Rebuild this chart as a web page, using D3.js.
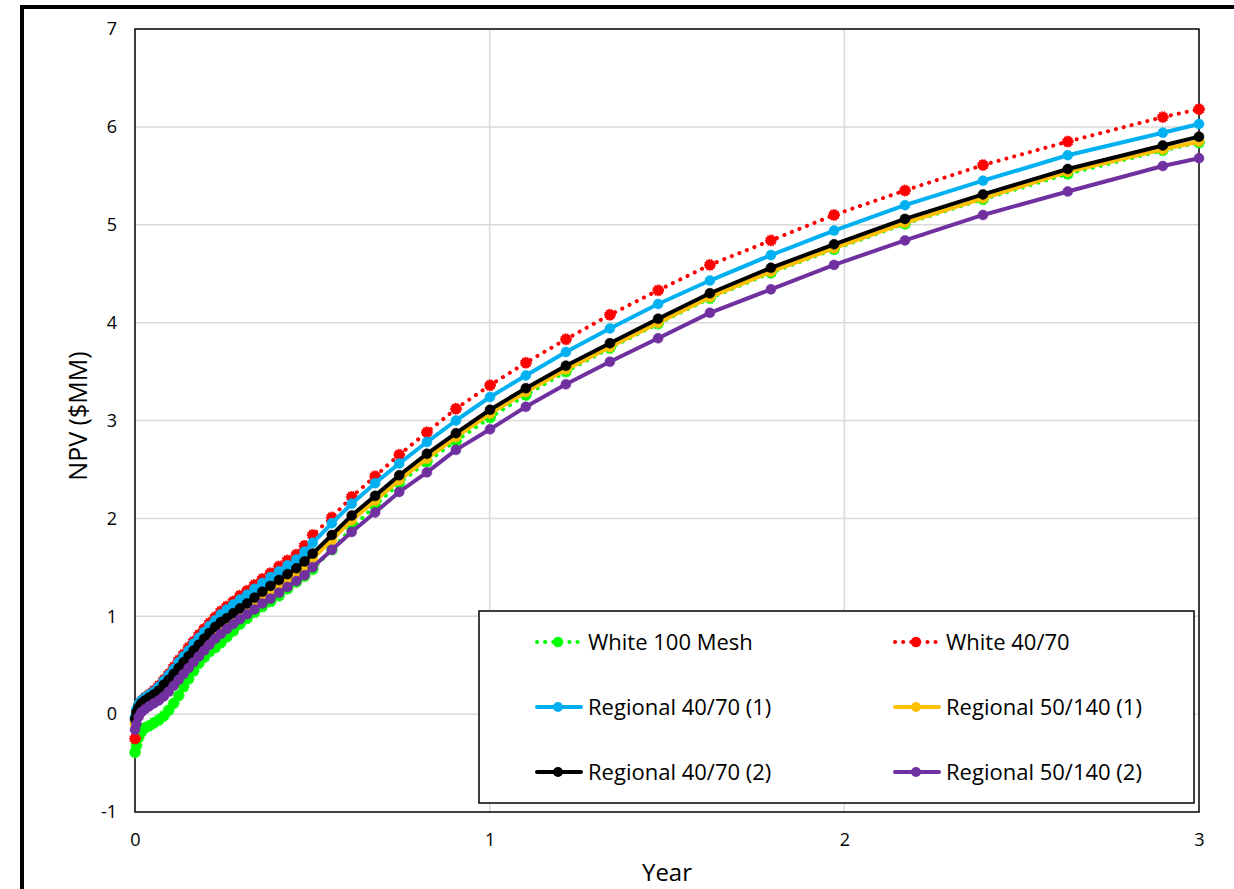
<!DOCTYPE html>
<html>
<head>
  <meta charset="UTF-8">
  <script src="https://d3js.org/d3.v7.min.js"></script>
  <title>NPV vs Year</title>
  <style>
    body { margin: 0; background: #fff; font-family: 'Open Sans', 'Liberation Sans', sans-serif; }
  </style>
</head>
<body>
  <svg width="1234" height="889"></svg>
  <script>
    // shared time steps (years)
    const years = [0, 0.004, 0.01, 0.018, 0.028, 0.04, 0.053, 0.067, 0.081, 0.095, 0.109, 0.123, 0.137, 0.151, 0.165, 0.18, 0.195, 0.21, 0.226, 0.242, 0.259, 0.277, 0.296, 0.316, 0.337, 0.359, 0.382, 0.406, 0.43, 0.455, 0.478, 0.501, 0.555, 0.611, 0.677, 0.745, 0.823, 0.905, 1.001, 1.102, 1.215, 1.339, 1.475, 1.621, 1.793, 1.971, 2.171, 2.391, 2.63, 2.898, 3.0];

    const white100 = [-0.39, -0.32, -0.24, -0.18, -0.14, -0.12, -0.09, -0.06, -0.02, 0.04, 0.11, 0.19, 0.28, 0.36, 0.44, 0.52, 0.58, 0.64, 0.68, 0.73, 0.79, 0.85, 0.92, 0.98, 1.04, 1.10, 1.15, 1.21, 1.28, 1.35, 1.41, 1.48, 1.68, 1.90, 2.13, 2.36, 2.58, 2.79, 3.03, 3.26, 3.50, 3.74, 3.99, 4.25, 4.51, 4.75, 5.01, 5.26, 5.52, 5.76, 5.84];
    const white4070 = [-0.25, -0.02, 0.08, 0.13, 0.17, 0.20, 0.24, 0.29, 0.35, 0.41, 0.48, 0.55, 0.61, 0.68, 0.74, 0.81, 0.87, 0.93, 0.99, 1.05, 1.10, 1.15, 1.21, 1.26, 1.32, 1.38, 1.44, 1.51, 1.57, 1.63, 1.72, 1.83, 2.01, 2.22, 2.43, 2.65, 2.88, 3.12, 3.36, 3.59, 3.83, 4.08, 4.33, 4.59, 4.84, 5.10, 5.35, 5.61, 5.85, 6.10, 6.18];
    const reg4070a = [-0.03, 0.05, 0.10, 0.14, 0.17, 0.20, 0.23, 0.28, 0.34, 0.40, 0.46, 0.53, 0.59, 0.65, 0.72, 0.78, 0.84, 0.90, 0.96, 1.02, 1.07, 1.12, 1.17, 1.22, 1.28, 1.34, 1.40, 1.46, 1.52, 1.58, 1.66, 1.75, 1.95, 2.15, 2.36, 2.56, 2.78, 3.00, 3.24, 3.46, 3.70, 3.94, 4.19, 4.43, 4.69, 4.94, 5.20, 5.45, 5.71, 5.94, 6.03];
    const reg50140a = [-0.10, -0.03, 0.02, 0.06, 0.09, 0.12, 0.15, 0.19, 0.24, 0.29, 0.35, 0.41, 0.47, 0.53, 0.59, 0.65, 0.71, 0.77, 0.83, 0.88, 0.92, 0.97, 1.02, 1.07, 1.13, 1.19, 1.25, 1.31, 1.37, 1.43, 1.50, 1.59, 1.78, 1.98, 2.18, 2.39, 2.61, 2.83, 3.07, 3.29, 3.52, 3.75, 4.00, 4.26, 4.52, 4.76, 5.02, 5.27, 5.54, 5.77, 5.85];
    const reg4070b = [-0.05, 0.02, 0.07, 0.11, 0.14, 0.17, 0.20, 0.24, 0.30, 0.35, 0.41, 0.47, 0.53, 0.59, 0.65, 0.71, 0.77, 0.83, 0.89, 0.94, 0.98, 1.03, 1.08, 1.13, 1.19, 1.25, 1.31, 1.37, 1.43, 1.49, 1.56, 1.64, 1.83, 2.03, 2.23, 2.44, 2.66, 2.87, 3.11, 3.33, 3.56, 3.79, 4.04, 4.30, 4.56, 4.80, 5.06, 5.31, 5.57, 5.81, 5.90];
    const reg50140b = [-0.16, -0.10, -0.03, 0.02, 0.05, 0.08, 0.11, 0.14, 0.18, 0.23, 0.29, 0.35, 0.41, 0.47, 0.53, 0.59, 0.65, 0.71, 0.77, 0.82, 0.87, 0.92, 0.97, 1.02, 1.07, 1.13, 1.18, 1.24, 1.30, 1.36, 1.42, 1.50, 1.68, 1.86, 2.06, 2.27, 2.47, 2.70, 2.91, 3.14, 3.37, 3.60, 3.84, 4.10, 4.34, 4.59, 4.84, 5.10, 5.34, 5.60, 5.68];

    const seriesNames = ["White 100 Mesh", "White 40/70", "Regional 40/70 (1)", "Regional 50/140 (1)", "Regional 40/70 (2)", "Regional 50/140 (2)"];
    const seriesValues = [white100, white4070, reg4070a, reg50140a, reg4070b, reg50140b];
    const seriesColors = ["#00ff00", "#ff0000", "#00b0f0", "#ffc000", "#000000", "#7030a0"];
    const seriesDotted = [true, true, false, false, false, false];

    const xTicks = [0, 1, 2, 3];
    const yTicks = [-1, 0, 1, 2, 3, 4, 5, 6, 7];

    const svg = d3.select("svg");
    const plotLeft = 135, plotRight = 1199, plotTop = 29, plotBottom = 812;

    const x = d3.scaleLinear().domain([0, 3]).range([plotLeft, plotRight]);
    const y = d3.scaleLinear().domain([-1, 7]).range([plotBottom, plotTop]);

    // outer chart frame (runs off the picture to the right and bottom)
    svg.append("rect")
      .attr("x", 22).attr("y", 7)
      .attr("width", 1400).attr("height", 1000)
      .attr("fill", "none").attr("stroke", "#000").attr("stroke-width", 4);

    // gridlines
    svg.append("g").selectAll("line")
      .data(yTicks.filter(d => d > -1 && d < 7))
      .enter().append("line")
      .attr("x1", plotLeft).attr("x2", plotRight)
      .attr("y1", d => y(d)).attr("y2", d => y(d))
      .attr("stroke", "#d9d9d9").attr("stroke-width", 1.5);

    svg.append("g").selectAll("line")
      .data(xTicks.filter(d => d > 0 && d < 3))
      .enter().append("line")
      .attr("y1", plotTop).attr("y2", plotBottom)
      .attr("x1", d => x(d)).attr("x2", d => x(d))
      .attr("stroke", "#d9d9d9").attr("stroke-width", 1.5);

    // plot area border
    svg.append("rect")
      .attr("x", plotLeft).attr("y", plotTop)
      .attr("width", plotRight - plotLeft).attr("height", plotBottom - plotTop)
      .attr("fill", "none").attr("stroke", "#000").attr("stroke-width", 1.5);

    // axes
    const yAxis = d3.axisLeft(y).tickValues(yTicks).tickSize(0).tickPadding(18).tickFormat(d => String(d));
    const xAxis = d3.axisBottom(x).tickValues(xTicks).tickSize(0).tickPadding(21).tickFormat(d => String(d));

    svg.append("g").attr("transform", `translate(${plotLeft},0)`).call(yAxis)
      .call(g => g.select(".domain").remove())
      .selectAll("text").attr("font-size", 18).attr("font-family", "'Open Sans', sans-serif").attr("fill", "#000");

    svg.append("g").attr("transform", `translate(0,${plotBottom})`).call(xAxis)
      .call(g => g.select(".domain").remove())
      .selectAll("text").attr("font-size", 18).attr("font-family", "'Open Sans', sans-serif").attr("fill", "#000");

    // axis titles
    svg.append("text")
      .attr("x", (plotLeft + plotRight) / 2).attr("y", 881)
      .attr("text-anchor", "middle")
      .attr("font-size", 24).attr("fill", "#000")
      .text("Year");

    svg.append("text")
      .attr("transform", "translate(87,416) rotate(-90)")
      .attr("text-anchor", "middle")
      .attr("font-size", 25).attr("fill", "#000")
      .text("NPV ($MM)");

    // series
    const line = d3.line().x(d => x(d[0])).y(d => y(d[1]));
    const plot = svg.append("g");

    seriesValues.forEach((vals, i) => {
      const pts = years.map((t, j) => [t, vals[j]]);
      const g = plot.append("g");
      g.append("path")
        .datum(pts)
        .attr("d", line)
        .attr("fill", "none")
        .attr("stroke", seriesColors[i])
        .attr("stroke-width", 4)
        .attr("stroke-linecap", "round")
        .attr("stroke-linejoin", "round")
        .attr("stroke-dasharray", seriesDotted[i] ? "0.1 8" : null);
      g.selectAll("circle")
        .data(pts)
        .enter().append("circle")
        .attr("cx", d => x(d[0])).attr("cy", d => y(d[1]))
        .attr("r", seriesDotted[i] ? 5.2 : 5)
        .attr("fill", seriesColors[i])
        .attr("stroke", seriesColors[i])
        .attr("stroke-width", seriesDotted[i] ? 1.5 : 0.5)
        .attr("stroke-dasharray", seriesDotted[i] ? "1.5 1" : null);
    });

    // legend
    const legend = svg.append("g");
    legend.append("rect")
      .attr("x", 479).attr("y", 611)
      .attr("width", 715).attr("height", 192)
      .attr("fill", "#fff").attr("stroke", "#000").attr("stroke-width", 1.5);

    const colX = [535, 893];
    const rowY = [642, 707, 772];
    seriesNames.forEach((name, i) => {
      const lx = colX[i % 2], ly = rowY[Math.floor(i / 2)];
      const item = legend.append("g");
      item.append("line")
        .attr("x1", lx + 2).attr("x2", lx + 46)
        .attr("y1", ly).attr("y2", ly)
        .attr("stroke", seriesColors[i])
        .attr("stroke-width", 4)
        .attr("stroke-linecap", "round")
        .attr("stroke-dasharray", seriesDotted[i] ? "0.1 8" : null);
      item.append("circle")
        .attr("cx", lx + 23).attr("cy", ly)
        .attr("r", seriesDotted[i] ? 5.2 : 5)
        .attr("fill", seriesColors[i]);
      item.append("text")
        .attr("x", lx + 53).attr("y", ly)
        .attr("dy", "0.35em")
        .attr("font-size", 22).attr("fill", "#000")
        .text(name);
    });
  </script>
</body>
</html>
